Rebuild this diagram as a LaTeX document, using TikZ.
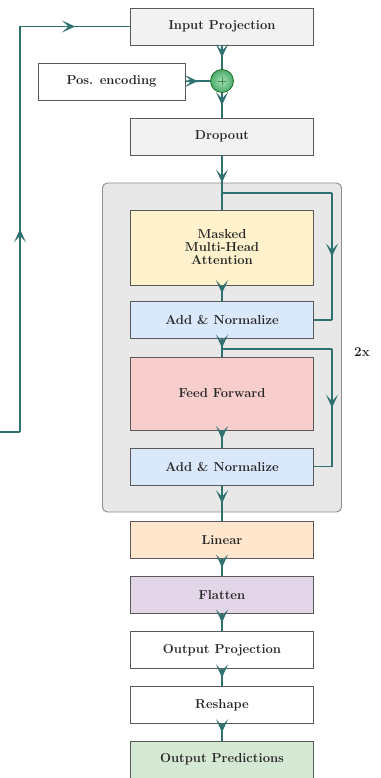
\documentclass[tikz,border=0pt]{standalone}
\usetikzlibrary{arrows.meta,decorations.markings}
\definecolor{lnk}{HTML}{2F7070}
\definecolor{cyel}{HTML}{FFF2CC}
\definecolor{cblu}{HTML}{DAE8FC}
\definecolor{cred}{HTML}{F8CECC}
\definecolor{cora}{HTML}{FFE6CC}
\definecolor{cpur}{HTML}{E1D5E7}
\definecolor{cgrn}{HTML}{D5E8D4}
\definecolor{cbox}{HTML}{F2F2F2}
\definecolor{cballin}{HTML}{A6E3B8}
\definecolor{cballout}{HTML}{4BAA6C}
\tikzset{
  box/.style={draw=black!65, line width=0.9pt, minimum width=183pt, minimum height=37pt,
    font=\fontsize{13}{13}\selectfont\bfseries, text=black!85, align=center, inner sep=0pt},
  wire/.style={draw=lnk, line width=1.8pt},
  flow/.style={wire, postaction={decorate}, decoration={markings,
    mark=at position 0.5 with {\arrow[lnk]{Stealth[length=13pt,width=12pt,inset=6.5pt]}}}},
}
\begin{document}
\begin{tikzpicture}[x=1pt,y=-1pt]
\useasboundingbox (0,0) rectangle (380,778);
% background block
\node[draw=black!45, line width=0.9pt, fill=black!9, rounded corners=5pt, minimum width=239pt, minimum height=329pt, inner sep=0pt] (blk) at (222,347.5) {};
% nodes
\node[box, fill=cbox] (inp) at (222,26.5) {Input Projection};
\node[box, fill=white, minimum width=147pt] (pos) at (111.5,81.5) {Pos. encoding};
\node[circle, draw=green!35!black, line width=0.6pt, shading=radial, inner color=cballin, outer color=cballout, minimum size=23pt, inner sep=0pt] (plus) at (222,81) {};
\draw[green!30!black!70, line width=0.6pt] ([xshift=-4pt]plus.center) -- ([xshift=4pt]plus.center)
  ([yshift=-4pt]plus.center) -- ([yshift=4pt]plus.center);
\node[box, fill=cbox] (drop) at (222,136.5) {Dropout};
\node[box, fill=cyel, minimum height=75pt] (mha) at (222,247.5) {Masked\\Multi-Head\\Attention};
\node[box, fill=cblu] (an1) at (222,320) {Add \& Normalize};
\node[box, fill=cred, minimum height=73pt] (ff) at (222,393.5) {Feed Forward};
\node[box, fill=cblu] (an2) at (222,466.5) {Add \& Normalize};
\node[box, fill=cora] (lin) at (222,540) {Linear};
\node[box, fill=cpur] (flat) at (222,595) {Flatten};
\node[box, fill=white] (oproj) at (222,650) {Output Projection};
\node[box, fill=white] (resh) at (222,705) {Reshape};
\node[box, fill=cgrn] (pred) at (222,759.5) {Output Predictions};
\node[font=\fontsize{13.5}{14}\selectfont\bfseries, text=black!85] (rep) at (362,352) {2x};
% main flow
\draw[flow] (inp) -- (plus);
\draw[flow] (pos) -- (plus);
\draw[flow] (plus) -- (drop);
\draw[flow] (drop) -- (mha);
\draw[flow] (mha) -- (an1);
\draw[flow] (an1) -- (ff);
\draw[flow] (ff) -- (an2);
\draw[flow] (an2) -- (lin);
\draw[flow] (lin) -- (flat);
\draw[flow] (flat) -- (oproj);
\draw[flow] (oproj) -- (resh);
\draw[flow] (resh) -- (pred);
% residual 1
\coordinate (r1s) at (222,193);
\coordinate (r1a) at (332,193);
\coordinate (r1b) at (332,320);
\draw[wire] (r1s) -- (r1a);
\draw[flow] (r1a) -- (r1b);
\draw[wire] (r1b) -- (an1.east);
% residual 2
\coordinate (r2s) at (222,349);
\coordinate (r2a) at (332,349);
\coordinate (r2b) at (332,466.5);
\draw[wire] (r2s) -- (r2a);
\draw[flow] (r2a) -- (r2b);
\draw[wire] (r2b) -- (an2.east);
% feedback
\coordinate (fb0) at (0,432);
\coordinate (fb1) at (20,432);
\coordinate (fb2) at (20,26.5);
\draw[wire] (fb0) -- (fb1);
\draw[flow] (fb1) -- (fb2);
\draw[flow] (fb2) -- (inp.west);
\end{tikzpicture}
\end{document}
